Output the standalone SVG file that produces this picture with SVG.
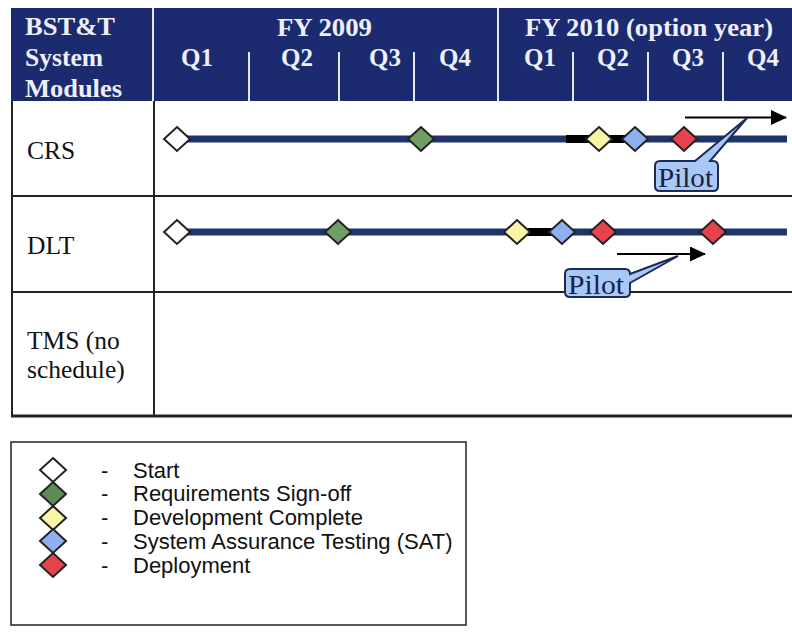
<svg xmlns="http://www.w3.org/2000/svg" width="792" height="635" viewBox="0 0 792 635">
<style>
.hd{font-family:"Liberation Serif","Times New Roman",serif;font-weight:bold;font-size:25px;fill:#eef0f8}
.q{text-anchor:middle}
.wl{stroke:#e6e9f3;stroke-width:2}
.tl{stroke:#222;stroke-width:2;fill:none}
.lbl{font-family:"Liberation Serif","Times New Roman",serif;font-size:25.5px;fill:#111}
.bar{stroke:#1f3468;stroke-width:7}
.blk{stroke:#000;stroke-width:8}
.dm{stroke:#222;stroke-width:2}
.st{fill:#fff}.rq{fill:#6f9e66}.dv{fill:#f8f5a6}.sa{fill:#8fb0ef}.dp{fill:#e6434c}
.ar{stroke:#000;stroke-width:2}
.co{fill:#a9c8f6;stroke:#1d2a55;stroke-width:2}
.pt{font-family:"Liberation Serif","Times New Roman",serif;font-size:27px;fill:#1a2244}
.lg{font-family:"Liberation Sans",Arial,sans-serif;font-size:22px;fill:#111}
</style>
<defs>
<path id="d" d="M0,-12 L13,0 L0,12 L-13,0 Z"/>
<marker id="ah" markerWidth="16" markerHeight="16" refX="15" refY="7.5" orient="auto" markerUnits="userSpaceOnUse"><path d="M0,0 L16,7.5 L0,15 Z" fill="#000"/></marker>
</defs>
<rect width="792" height="635" fill="#fff"/>
<g id="header">
<rect x="11" y="8" width="781" height="93" fill="#1c2b70"/>
<line class="wl" x1="153" y1="8" x2="153" y2="101"/>
<line class="wl" x1="498" y1="8" x2="498" y2="101"/>
<line class="wl" x1="249" y1="52" x2="249" y2="101"/>
<line class="wl" x1="339" y1="52" x2="339" y2="101"/>
<line class="wl" x1="414" y1="52" x2="414" y2="101"/>
<line class="wl" x1="573" y1="52" x2="573" y2="101"/>
<line class="wl" x1="648" y1="52" x2="648" y2="101"/>
<line class="wl" x1="723" y1="52" x2="723" y2="101"/>
<text class="hd" x="25" y="35" textLength="90" lengthAdjust="spacingAndGlyphs">BST&amp;T</text>
<text class="hd" x="25" y="66" textLength="78" lengthAdjust="spacingAndGlyphs">System</text>
<text class="hd" x="25" y="97" textLength="97" lengthAdjust="spacingAndGlyphs">Modules</text>
<text class="hd" x="277" y="36" textLength="95" lengthAdjust="spacingAndGlyphs">FY 2009</text>
<text class="hd" x="525" y="36" textLength="248" lengthAdjust="spacingAndGlyphs">FY 2010 (option year)</text>
<text class="hd q" x="197" y="66">Q1</text>
<text class="hd q" x="297" y="66">Q2</text>
<text class="hd q" x="385" y="66">Q3</text>
<text class="hd q" x="455" y="66">Q4</text>
<text class="hd q" x="540" y="66">Q1</text>
<text class="hd q" x="613" y="66">Q2</text>
<text class="hd q" x="688" y="66">Q3</text>
<text class="hd q" x="763" y="66">Q4</text>
</g>
<g id="table">
<line class="tl" x1="12" y1="101" x2="12" y2="416"/>
<line class="tl" x1="154" y1="101" x2="154" y2="416"/>
<line class="tl" x1="12" y1="196" x2="792" y2="196"/>
<line class="tl" x1="12" y1="292" x2="792" y2="292"/>
<line class="tl" x1="11" y1="416" x2="792" y2="416" style="stroke-width:3"/>
<text class="lbl" x="27" y="159">CRS</text>
<text class="lbl" x="27" y="254">DLT</text>
<text class="lbl" x="27" y="349">TMS (no</text>
<text class="lbl" x="27" y="378">schedule)</text>
</g>
<g id="connectors">
<line class="bar" x1="177" y1="139" x2="787" y2="139"/>
<line class="blk" x1="566" y1="139" x2="635" y2="139"/>
<line class="bar" x1="177" y1="232" x2="787" y2="232"/>
<line class="blk" x1="517" y1="232" x2="562" y2="232"/>
<line class="ar" x1="685" y1="117.5" x2="786" y2="117.5" marker-end="url(#ah)"/>
<line class="ar" x1="617" y1="254" x2="705" y2="254" marker-end="url(#ah)"/>
</g>
<g id="crs-milestones">
<use href="#d" class="dm st" x="177" y="139"/>
<use href="#d" class="dm rq" x="421" y="139"/>
<use href="#d" class="dm dv" x="599" y="139"/>
<use href="#d" class="dm sa" x="635" y="139"/>
<use href="#d" class="dm dp" x="684" y="139"/>
</g>
<g id="dlt-milestones">
<use href="#d" class="dm st" x="177" y="232"/>
<use href="#d" class="dm rq" x="338" y="232"/>
<use href="#d" class="dm dv" x="517" y="232"/>
<use href="#d" class="dm sa" x="562" y="232"/>
<use href="#d" class="dm dp" x="603" y="232"/>
<use href="#d" class="dm dp" x="713" y="232"/>
</g>
<g id="crs-pilot">
<path class="co" d="M660,161 L695,161 L747,118 L710,161 L713,161 Q718,161 718,166 L718,186 Q718,191 713,191 L660,191 Q655,191 655,186 L655,166 Q655,161 660,161 Z"/>
<text class="pt" x="658" y="187" textLength="55" lengthAdjust="spacingAndGlyphs">Pilot</text>
</g>
<g id="dlt-pilot">
<path class="co" d="M570,269 L625,269 Q630,269 630,274 L678,256 L630,283 L630,292 Q630,297 625,297 L570,297 Q565,297 565,292 L565,274 Q565,269 570,269 Z"/>
<text class="pt" x="568" y="294" textLength="56" lengthAdjust="spacingAndGlyphs">Pilot</text>
</g>
<g id="legend">
<rect x="11" y="442" width="455" height="183" fill="none" stroke="#222" stroke-width="1.5"/>
<use href="#d" class="dm st" x="53" y="470"/>
<use href="#d" class="dm rq" x="53" y="494" style="fill:#5d8a56"/>
<use href="#d" class="dm dv" x="53" y="518"/>
<use href="#d" class="dm sa" x="53" y="541"/>
<use href="#d" class="dm dp" x="53" y="565"/>
<text class="lg" x="101" y="477.5">-</text>
<text class="lg" x="101" y="501">-</text>
<text class="lg" x="101" y="525">-</text>
<text class="lg" x="101" y="549">-</text>
<text class="lg" x="101" y="572.5">-</text>
<text class="lg" x="133" y="477.5">Start</text>
<text class="lg" x="133" y="501">Requirements Sign-off</text>
<text class="lg" x="133" y="525">Development Complete</text>
<text class="lg" x="133" y="549">System Assurance Testing (SAT)</text>
<text class="lg" x="133" y="572.5">Deployment</text>
</g>
</svg>
